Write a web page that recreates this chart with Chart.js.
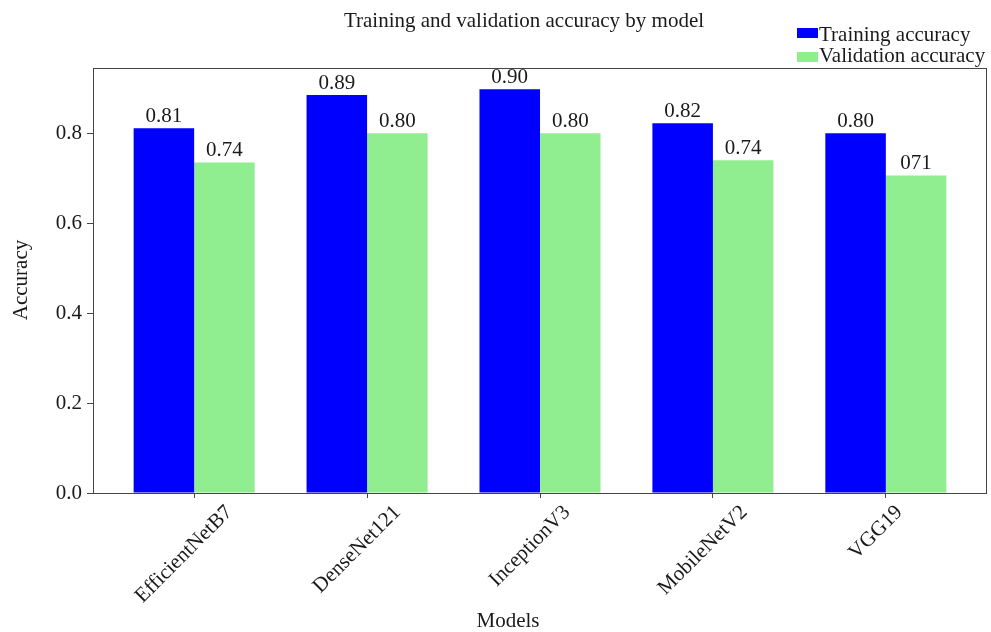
<!DOCTYPE html>
<html>
<head>
<meta charset="utf-8">
<title>Training and validation accuracy by model</title>
<script src="https://cdn.jsdelivr.net/npm/chart.js@4.4.1/dist/chart.umd.min.js"></script>
<style>
  html, body { margin: 0; padding: 0; background: #fff; }
  #wrap { width: 991px; height: 632px; }
</style>
</head>
<body>
<div id="wrap"><canvas id="chart" width="991" height="632"></canvas></div>
<script>
// data
const models = ["EfficientNetB7", "DenseNet121", "InceptionV3", "MobileNetV2", "VGG19"];
const trainAcc = [0.811, 0.885, 0.898, 0.822, 0.800];
const valAcc = [0.735, 0.800, 0.800, 0.740, 0.706];
const trainLabels = ["0.81", "0.89", "0.90", "0.82", "0.80"];
const valLabels = ["0.74", "0.80", "0.80", "0.74", "071"];
const yTicks = [0, 0.2, 0.4, 0.6, 0.8];

const FONT = "'Liberation Serif', 'Times New Roman', serif";
const TEXT = "#1a1a1a";
const AXIS = "#444";

// title, legend, axis titles, rotated x labels, value labels, frame
const decorations = {
  id: "decorations",
  afterDatasetsDraw(chart) {
    const ctx = chart.ctx;
    const area = chart.chartArea;
    ctx.save();

    // value labels above bars
    ctx.fillStyle = TEXT;
    ctx.font = "21px " + FONT;
    ctx.textAlign = "center";
    ctx.textBaseline = "alphabetic";
    [trainLabels, valLabels].forEach((labels, d) => {
      chart.getDatasetMeta(d).data.forEach((bar, i) => {
        ctx.fillText(labels[i], bar.x, bar.y - 6);
      });
    });

    // frame
    ctx.strokeStyle = AXIS;
    ctx.lineWidth = 1;
    ctx.strokeRect(area.left + 0.5, area.top + 0.5, area.right - area.left - 1, area.bottom - area.top);

    // x tick labels, rotated 45 deg
    const xs = chart.scales.x;
    models.forEach((m, i) => {
      const tx = xs.getPixelForValue(i);
      const w = ctx.measureText(m).width;
      const bh = (w + 6) * Math.SQRT1_2;
      ctx.save();
      ctx.translate(tx - 10, area.bottom + 14 + bh / 2);
      ctx.rotate(-Math.PI / 4);
      ctx.textAlign = "center";
      ctx.textBaseline = "middle";
      ctx.fillText(m, 0, 0);
      ctx.restore();
    });

    // title
    ctx.textAlign = "center";
    ctx.textBaseline = "alphabetic";
    ctx.fillText("Training and validation accuracy by model", 524, 27);

    // axis titles
    ctx.fillText("Models", 508, 627);
    ctx.save();
    ctx.translate(27, 280);
    ctx.rotate(-Math.PI / 2);
    ctx.fillText("Accuracy", 0, 0);
    ctx.restore();

    // legend
    ctx.textAlign = "left";
    chart.data.datasets.forEach((ds, d) => {
      ctx.fillStyle = ds.backgroundColor;
      ctx.fillRect(797, 28 + d * 24, 21, 10);
      ctx.fillStyle = TEXT;
      ctx.fillText(ds.label, 819, 41 + d * 21);
    });

    ctx.restore();
  }
};

new Chart(document.getElementById("chart"), {
  type: "bar",
  data: {
    datasets: [
      {
        label: "Training accuracy",
        data: trainAcc.map((v, i) => ({ x: i, y: v })),
        backgroundColor: "#0000ff",
        borderWidth: 0
      },
      {
        label: "Validation accuracy",
        data: valAcc.map((v, i) => ({ x: i, y: v })),
        backgroundColor: "#90ee90",
        borderWidth: 0
      }
    ]
  },
  options: {
    responsive: false,
    animation: false,
    devicePixelRatio: 1,
    categoryPercentage: 0.7,
    barPercentage: 1.0,
    layout: { padding: { left: 0, right: 4, top: 68, bottom: 0 } },
    plugins: {
      legend: { display: false },
      title: { display: false },
      tooltip: { enabled: false }
    },
    scales: {
      x: {
        type: "linear",
        min: -0.585,
        max: 4.585,
        offset: false,
        afterBuildTicks: (s) => { s.ticks = models.map((_, i) => ({ value: i })); },
        afterFit: (s) => { s.height = 139; },
        ticks: { display: false },
        grid: { offset: false, drawOnChartArea: false, tickLength: 5, color: AXIS },
        border: { display: false }
      },
      y: {
        min: 0,
        max: 0.945,
        afterBuildTicks: (s) => { s.ticks = yTicks.map((v) => ({ value: v })); },
        afterFit: (s) => { s.width = 93; },
        ticks: {
          padding: 5,
          color: TEXT,
          font: { family: FONT, size: 21 },
          callback: (v) => v.toFixed(1)
        },
        grid: { drawOnChartArea: false, tickLength: 6, color: AXIS },
        border: { display: false }
      }
    }
  },
  plugins: [decorations]
});
</script>
</body>
</html>
